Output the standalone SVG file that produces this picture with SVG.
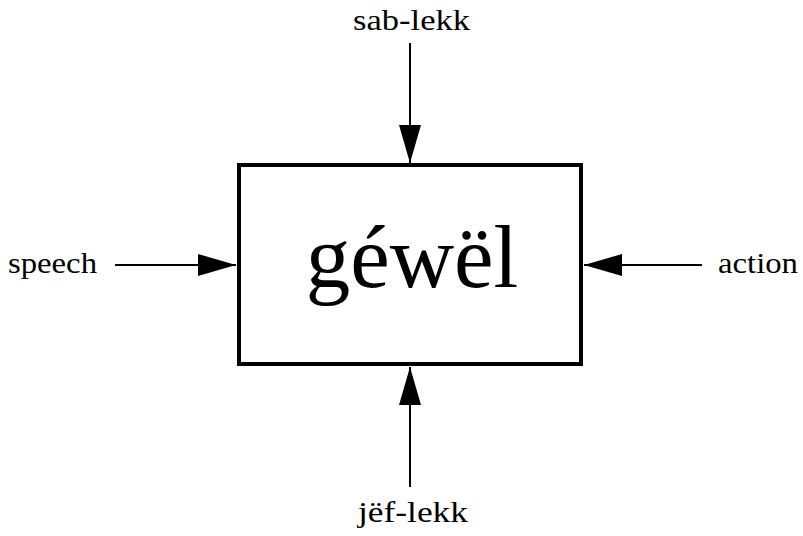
<svg xmlns="http://www.w3.org/2000/svg" width="803" height="536" viewBox="0 0 803 536">
  <style>
    .lbl { font-family: "Liberation Serif", "Times New Roman", serif; font-size: 30px; fill: #000; }
    .big { font-family: "Liberation Serif", "Times New Roman", serif; font-size: 89px; fill: #000; }
    .conn { stroke: #000; stroke-width: 2; fill: none; marker-end: url(#head); }
  </style>
  <defs>
    <marker id="head" markerUnits="userSpaceOnUse" markerWidth="40" markerHeight="24" refX="38" refY="11" orient="auto">
      <path d="M0,0 L38,11 L0,22 Z" fill="#000"/>
    </marker>
  </defs>
  <rect width="803" height="536" fill="#fff"/>

  <g id="connectors">
    <line class="conn" x1="410" y1="43" x2="410" y2="163"/>
    <line class="conn" x1="410" y1="487" x2="410" y2="367"/>
    <line class="conn" x1="115" y1="265" x2="236" y2="265"/>
    <line class="conn" x1="702" y1="265" x2="584" y2="265"/>
  </g>

  <g id="gewel">
    <rect x="239" y="165" width="342" height="199" fill="#fff" stroke="#000" stroke-width="4"/>
    <text class="big" x="412" y="287" text-anchor="middle">géwël</text>
  </g>

  <g id="sab-lekk">
    <text class="lbl" x="353" y="30" textLength="117" lengthAdjust="spacingAndGlyphs">sab-lekk</text>
  </g>
  <g id="jef-lekk">
    <text class="lbl" x="358" y="522" textLength="110" lengthAdjust="spacingAndGlyphs">jëf-lekk</text>
  </g>
  <g id="speech">
    <text class="lbl" x="8" y="273" textLength="89" lengthAdjust="spacingAndGlyphs">speech</text>
  </g>
  <g id="action">
    <text class="lbl" x="718" y="273" textLength="80" lengthAdjust="spacingAndGlyphs">action</text>
  </g>
</svg>
